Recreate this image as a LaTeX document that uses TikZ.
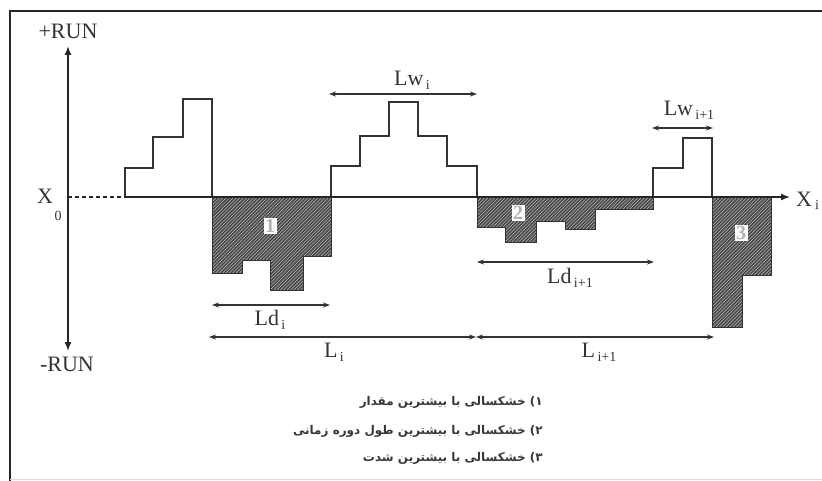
\documentclass[tikz,border=0pt]{standalone}
\usepackage{fontspec}
\setmainfont{Liberation Serif}
\newfontfamily\arabicfont[Script=Arabic]{DejaVu Sans}
\TeXXeTstate=1
\usetikzlibrary{arrows.meta}
\newcommand{\dimlab}[2]{#1\raisebox{-4pt}{\fontsize{14}{14}\selectfont\,#2}}
\newcommand{\hatchreg}[1]{%
  \fill[gray!30] #1;
  \begin{scope}
    \clip #1;
    \foreach \k in {40,43.4,...,780} \draw[hatchline] (\k,345) -- ++(150,-150);
  \end{scope}
  \draw[hatchedge] #1;}
\begin{document}
\begin{tikzpicture}[x=1pt,y=-1pt,
  line/.style={line width=1.5pt,draw=black!80},
  hatchline/.style={line width=1.7pt,draw=black!72},
  hatchedge/.style={line width=1pt,draw=black!80},
  dimarrow/.style={line width=1.1pt,draw=black!80,{Stealth[length=7pt,width=5pt]}-{Stealth[length=7pt,width=5pt]}},
  axisarrow/.style={line width=1.4pt,draw=black!85},
  lbl/.style={inner sep=0pt,font=\fontsize{22}{22}\selectfont,text=black!80},
  digbox/.style={fill=white,inner sep=1.5pt,font=\fontsize{20}{20}\selectfont\bfseries,text=gray!60},
  fa/.style={inner sep=0pt,anchor=east,font=\arabicfont\bfseries\fontsize{12}{14}\selectfont,text=black!78}]
\useasboundingbox (0,0) rectangle (822,481);
% frame
\draw[line width=2.5pt,black!85] (10,481) -- (10,11) -- (822,11);
\draw[line width=1pt,gray!30] (10,479.5) -- (822,479.5);
% axes
\coordinate (ytop) at (68,46);
\coordinate (ybot) at (68,351);
\coordinate (orig) at (68,197);
\coordinate (start) at (125,197);
\coordinate (xend) at (790,197);
\draw[axisarrow,{Latex[length=9pt,width=7pt]}-{Latex[length=9pt,width=7pt]}] (ytop) -- (ybot);
\draw[axisarrow,dash pattern=on 4pt off 3pt] (orig) -- (start);
% hatched regions
\hatchreg{(212,197) -- (212,273) -- (242,273) -- (242,260) -- (270,260) -- (270,290) -- (303,290) -- (303,257) -- (331,257) -- (331,197) -- cycle}
\hatchreg{(477,197) -- (477,228) -- (505,228) -- (505,243) -- (536,243) -- (536,222) -- (565,222) -- (565,230) -- (595,230) -- (595,210) -- (653,210) -- (653,197) -- cycle}
\hatchreg{(712,197) -- (712,327) -- (742,327) -- (742,275) -- (771,275) -- (771,197) -- cycle}
% positive steps
\draw[line] (125,197) -- (125,168) -- (153,168) -- (153,137) -- (183,137) -- (183,99) -- (212,99) -- (212,197);
\draw[line] (331,197) -- (331,166) -- (360,166) -- (360,136) -- (389,136) -- (389,102) -- (418,102) -- (418,136) -- (447,136) -- (447,166) -- (477,166) -- (477,197);
\draw[line] (653,197) -- (653,168) -- (683,168) -- (683,138) -- (712,138) -- (712,197);
\draw[axisarrow,-{Latex[length=9pt,width=7pt]}] (start) -- (xend);
% digit boxes
\node[digbox] (d1) at (270,226) {1};
\node[digbox] (d2) at (518,213) {2};
\node[digbox] (d3) at (741,233) {3};
% dimension arrows
\coordinate (lwa) at (329,94); \coordinate (lwb) at (477,94);
\coordinate (lwc) at (652,128); \coordinate (lwd) at (713,128);
\coordinate (lda) at (212,305); \coordinate (ldb) at (330,305);
\coordinate (ldc) at (477,262); \coordinate (ldd) at (654,262);
\coordinate (la) at (209,337); \coordinate (lb) at (476,337);
\coordinate (lc) at (476,337); \coordinate (ld) at (714,337);
\draw[dimarrow] (lwa) -- (lwb);
\draw[dimarrow] (lwc) -- (lwd);
\draw[dimarrow] (lda) -- (ldb);
\draw[dimarrow] (ldc) -- (ldd);
\draw[dimarrow] (la) -- (lb);
\draw[dimarrow] (lc) -- (ld);
% labels
\node[lbl] (runp) at (68,31) {+RUN};
\node[lbl] (runm) at (67,364) {-RUN};
\node[lbl] (x0) at (45,196) {X};
\node[lbl,font=\fontsize{14}{14}\selectfont] (x0s) at (58,216) {0};
\node[lbl] (xi) at (804,199) {X};
\node[lbl,font=\fontsize{14}{14}\selectfont] (xis) at (817,205) {i};
\node[lbl] (lwi) at (412,80) {\dimlab{Lw}{i}};
\node[lbl] (lwi1) at (689,110) {\dimlab{Lw}{i+1}};
\node[lbl] (ldi) at (270,320) {\dimlab{Ld}{i}};
\node[lbl] (ldi1) at (570,278) {\dimlab{Ld}{i+1}};
\node[lbl] (li) at (334,352) {\dimlab{L}{i}};
\node[lbl] (li1) at (599,352) {\dimlab{L}{i+1}};
% legend
\node[fa] (t1) at (543,402) {\beginR ۱) خشکسالی با بیشترین مقدار\endR};
\node[fa] (t2) at (543,431) {\beginR ۲) خشکسالی با بیشترین طول دوره زمانی\endR};
\node[fa] (t3) at (543,458) {\beginR ۳) خشکسالی با بیشترین شدت\endR};
\end{tikzpicture}
\end{document}
